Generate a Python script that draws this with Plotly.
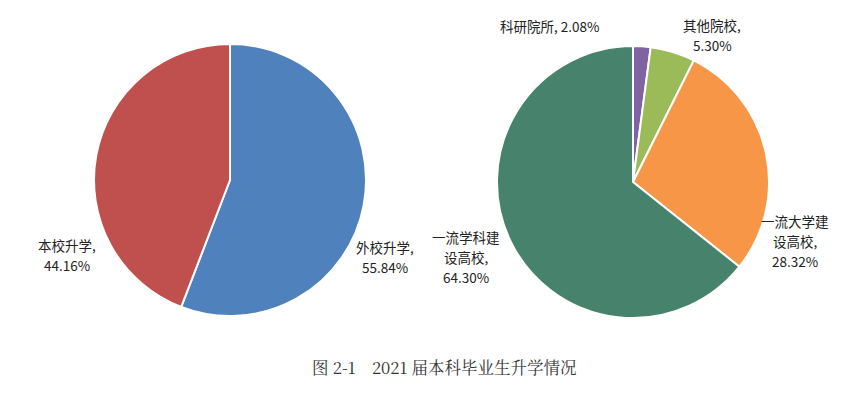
import plotly.graph_objects as go

left_labels = ["外校升学", "本校升学"]
left_values = [55.84, 44.16]
left_colors = ["#4F81BD", "#C0504D"]

right_labels = ["科研院所", "其他院校", "一流大学建设高校", "一流学科建设高校"]
right_values = [2.08, 5.30, 28.32, 64.30]
right_colors = ["#8064A2", "#9BBB59", "#F79646", "#46826C"]

caption = "图 2-1　2021 届本科毕业生升学情况"

W, H = 865, 396
OFF = 8  # page body margin


def px(x):
    return (x - OFF) / W


def py(y):
    return 1 - (y - OFF) / H


def dom(cx, cy, r):
    return dict(x=[px(cx - r), px(cx + r)], y=[py(cy + r), py(cy - r)])


fig = go.Figure()
fig.add_trace(go.Pie(
    labels=left_labels, values=left_values, sort=False, direction="clockwise",
    rotation=0, marker=dict(colors=left_colors, line=dict(color="white", width=2)),
    textinfo="none", hoverinfo="label+percent", domain=dom(230, 180, 136),
    showlegend=False,
))
fig.add_trace(go.Pie(
    labels=right_labels, values=right_values, sort=False, direction="clockwise",
    rotation=0, marker=dict(colors=right_colors, line=dict(color="white", width=2)),
    textinfo="none", hoverinfo="label+percent", domain=dom(633, 182, 136),
    showlegend=False,
))


def fmt(v):
    return f"{v:.2f}%"


# label lines, broken as in the reference
label_specs = [
    ([f"{left_labels[0]},", fmt(left_values[0])], 385, 247),
    ([f"{left_labels[1]},", fmt(left_values[1])], 67, 245),
    ([f"{right_labels[0]}, {fmt(right_values[0])}"], 549, 26),
    ([f"{right_labels[1]},", fmt(right_values[1])], 712, 25),
    ([right_labels[2][:5], f"{right_labels[2][5:]},", fmt(right_values[2])], 795, 221),
    ([right_labels[3][:5], f"{right_labels[3][5:]},", fmt(right_values[3])], 466, 237),
]
for lines, x, y0 in label_specs:
    for i, line in enumerate(lines):
        fig.add_annotation(
            text=line, x=px(x), y=py(y0 + 20 * i), xref="paper", yref="paper",
            showarrow=False, xanchor="center", yanchor="middle", align="center",
            font=dict(family="Noto Sans CJK SC, sans-serif", size=13.5, color="#222222"),
        )

fig.add_annotation(
    text=caption, x=px(444), y=py(367), xref="paper", yref="paper",
    showarrow=False, xanchor="center", yanchor="middle",
    font=dict(family="Noto Serif CJK SC, DejaVu Serif, serif", size=16.5, color="#333333"),
)

fig.update_layout(
    width=W, height=H, margin=dict(l=0, r=0, t=0, b=0),
    paper_bgcolor="white", plot_bgcolor="white",
)
fig.write_html("out.html")
